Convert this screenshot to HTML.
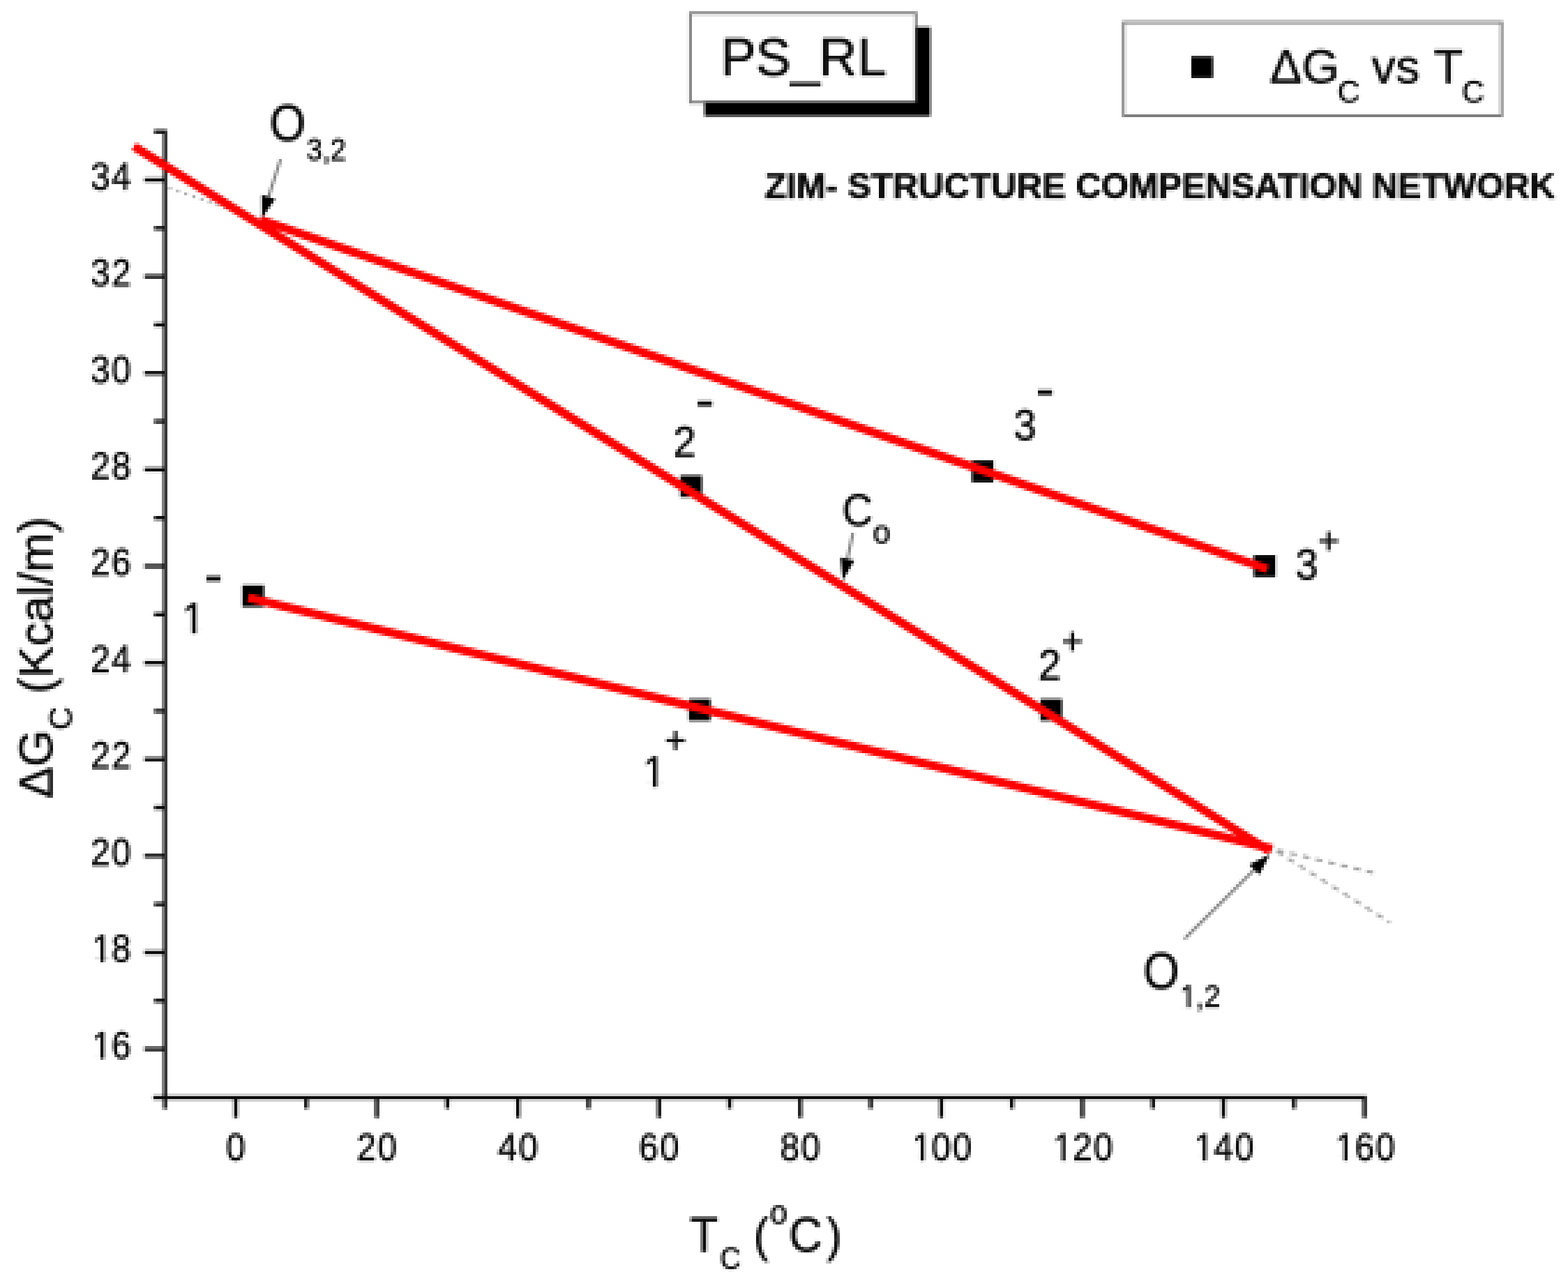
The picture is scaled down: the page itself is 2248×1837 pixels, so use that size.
<!DOCTYPE html>
<html lang="en"><head><meta charset="utf-8"><title>PS_RL - ZIM structure compensation network</title>
<style>html,body{margin:0;padding:0;background:#fff}body{width:2248px;height:1837px;overflow:hidden}svg{display:block}text{font-family:"Liberation Sans", Arial, Helvetica, sans-serif;fill:#0c0c0c;stroke:#0c0c0c;stroke-width:0.9px;stroke-linejoin:round}</style>
</head><body>
<svg width="2248" height="1837" viewBox="0 0 2248 1837">
<defs><filter id="lowres" filterUnits="userSpaceOnUse" primitiveUnits="userSpaceOnUse" x="0" y="0" width="2248" height="1840" color-interpolation-filters="sRGB">
<feConvolveMatrix in="SourceGraphic" order="4" kernelMatrix="1 1 1 1 1 1 1 1 1 1 1 1 1 1 1 1" divisor="16" targetX="0" targetY="0" edgeMode="duplicate" preserveAlpha="false" result="avg"/>
<feFlood x="0" y="0" width="1" height="1" flood-color="#000" flood-opacity="1" result="dot"/>
<feComposite in="dot" in2="dot" operator="over" x="0" y="0" width="4" height="4" result="cell"/>
<feTile in="cell" x="0" y="0" width="2248" height="1840" result="grid"/>
<feComposite in="avg" in2="grid" operator="in" result="samples"/>
<feConvolveMatrix in="samples" order="4" kernelMatrix="1 1 1 1 1 1 1 1 1 1 1 1 1 1 1 1" divisor="1" targetX="3" targetY="3" edgeMode="none" preserveAlpha="false"/>
</filter></defs>
<g filter="url(#lowres)">
<rect x="0" y="0" width="2248" height="1840" fill="#fff"/>
<g id="titlebox">
<rect x="1010" y="38.8" width="323.8" height="127.9" fill="#000"/>
<rect x="989.7" y="18.8" width="323.6" height="127.9" fill="#fff" stroke="#000" stroke-opacity="0.5" stroke-width="4"/>
<text x="1033.5 1083.5 1133.5 1174 1229.3" y="108.4" font-size="75.5">PS_RL</text>
</g>
<g id="legend">
<rect x="1610.8" y="32.2" width="542" height="133.8" fill="#fff" stroke="#000" stroke-opacity="0.5" stroke-width="4"/>
<rect x="1708" y="80.8" width="30.9" height="30.8" fill="#000"/>
<text y="118.6" font-size="69"><tspan x="1820.5">ΔG</tspan><tspan x="1917.5" dy="28" font-size="44.5">C </tspan><tspan x="1966.5" dy="-28">vs </tspan><tspan x="2055.5">T</tspan><tspan x="2096" dy="28" font-size="44.5">C</tspan></text>
</g>
<text x="1096.5" y="283.5" font-size="50" font-weight="bold" textLength="1133" lengthAdjust="spacingAndGlyphs">ZIM- STRUCTURE COMPENSATION NETWORK</text>
<g id="guides" fill="none" stroke="#a0a0a0" stroke-width="4">
<line x1="242" y1="269.5" x2="373" y2="315" stroke-dasharray="4 8"/>
<line x1="1828" y1="1218.5" x2="1977" y2="1253.5" stroke-dasharray="10 8.8" stroke-dashoffset="-3"/>
<line x1="1828" y1="1219.5" x2="1993" y2="1323" stroke-dasharray="10 8.8" stroke-dashoffset="-3"/>
</g>
<g id="axes" stroke="#0c0c0c" fill="none">
<line x1="236.6" y1="186" x2="236.6" y2="1590.5" stroke-width="5.4"/>
<line x1="219.5" y1="1574.0" x2="1959.3" y2="1574.0" stroke-width="5.6"/>
</g>
<g id="ticks" stroke="#0c0c0c" stroke-width="5.6" fill="none">
<line x1="207" y1="1504.36" x2="235" y2="1504.36"/>
<line x1="221" y1="1435.12" x2="235" y2="1435.12"/>
<line x1="207" y1="1365.88" x2="235" y2="1365.88"/>
<line x1="221" y1="1296.64" x2="235" y2="1296.64"/>
<line x1="207" y1="1227.4" x2="235" y2="1227.4"/>
<line x1="221" y1="1158.16" x2="235" y2="1158.16"/>
<line x1="207" y1="1088.92" x2="235" y2="1088.92"/>
<line x1="221" y1="1019.68" x2="235" y2="1019.68"/>
<line x1="207" y1="950.44" x2="235" y2="950.44"/>
<line x1="221" y1="881.2" x2="235" y2="881.2"/>
<line x1="207" y1="811.96" x2="235" y2="811.96"/>
<line x1="221" y1="742.72" x2="235" y2="742.72"/>
<line x1="207" y1="673.48" x2="235" y2="673.48"/>
<line x1="221" y1="604.24" x2="235" y2="604.24"/>
<line x1="207" y1="535" x2="235" y2="535"/>
<line x1="221" y1="465.76" x2="235" y2="465.76"/>
<line x1="207" y1="396.52" x2="235" y2="396.52"/>
<line x1="221" y1="327.28" x2="235" y2="327.28"/>
<line x1="207" y1="258.04" x2="235" y2="258.04"/>
<line x1="221" y1="188.8" x2="235" y2="188.8"/>
<line x1="338" y1="1575" x2="338" y2="1603"/>
<line x1="439.15" y1="1575" x2="439.15" y2="1590"/>
<line x1="540.3" y1="1575" x2="540.3" y2="1603"/>
<line x1="641.45" y1="1575" x2="641.45" y2="1590"/>
<line x1="742.6" y1="1575" x2="742.6" y2="1603"/>
<line x1="843.75" y1="1575" x2="843.75" y2="1590"/>
<line x1="944.9" y1="1575" x2="944.9" y2="1603"/>
<line x1="1046.05" y1="1575" x2="1046.05" y2="1590"/>
<line x1="1147.2" y1="1575" x2="1147.2" y2="1603"/>
<line x1="1248.35" y1="1575" x2="1248.35" y2="1590"/>
<line x1="1349.5" y1="1575" x2="1349.5" y2="1603"/>
<line x1="1450.65" y1="1575" x2="1450.65" y2="1590"/>
<line x1="1551.8" y1="1575" x2="1551.8" y2="1603"/>
<line x1="1652.95" y1="1575" x2="1652.95" y2="1590"/>
<line x1="1754.1" y1="1575" x2="1754.1" y2="1603"/>
<line x1="1855.25" y1="1575" x2="1855.25" y2="1590"/>
<line x1="1956.4" y1="1575" x2="1956.4" y2="1603"/>
</g>
<g id="ylabels">
<text transform="translate(131.92 1517.86) scale(0.9 1)" x="0 31.1" y="0" font-size="55.5">16</text>
<rect x="134.43" y="1513.16" width="9.64" height="6" fill="#fff"/>
<rect x="149.32" y="1513.16" width="9.25" height="6" fill="#fff"/>
<text transform="translate(131.92 1379.38) scale(0.9 1)" x="0 31.09" y="0" font-size="55.5">18</text>
<rect x="134.43" y="1374.68" width="9.64" height="6" fill="#fff"/>
<rect x="149.32" y="1374.68" width="9.25" height="6" fill="#fff"/>
<text transform="translate(130.1 1240.9) scale(0.9 1)" x="0 33.12" y="0" font-size="55.5">20</text>
<text transform="translate(130.1 1102.42) scale(0.9 1)" x="0 33.12" y="0" font-size="55.5">22</text>
<text transform="translate(130.1 963.94) scale(0.9 1)" x="0 33.11" y="0" font-size="55.5">24</text>
<text transform="translate(130.1 825.46) scale(0.9 1)" x="0 33.14" y="0" font-size="55.5">26</text>
<text transform="translate(130.1 686.98) scale(0.9 1)" x="0 33.12" y="0" font-size="55.5">28</text>
<text transform="translate(130.08 548.5) scale(0.9 1)" x="0 33.13" y="0" font-size="55.5">30</text>
<text transform="translate(130.08 410.02) scale(0.9 1)" x="0 33.13" y="0" font-size="55.5">32</text>
<text transform="translate(130.08 271.54) scale(0.9 1)" x="0 33.12" y="0" font-size="55.5">34</text>
</g>
<g id="xlabels">
<text transform="translate(324.11 1663.8) scale(0.9 1)" x="0" y="0" font-size="55.5">0</text>
<text transform="translate(511.51 1663.8) scale(0.9 1)" x="0 33.12" y="0" font-size="55.5">20</text>
<text transform="translate(713.79 1663.8) scale(0.9 1)" x="0 33.13" y="0" font-size="55.5">40</text>
<text transform="translate(916.12 1663.8) scale(0.9 1)" x="0 33.11" y="0" font-size="55.5">60</text>
<text transform="translate(1118.41 1663.8) scale(0.9 1)" x="0 33.12" y="0" font-size="55.5">80</text>
<text transform="translate(1307.63 1663.8) scale(0.9 1)" x="0 31.09 64.21" y="0" font-size="55.5">100</text>
<rect x="1310.13" y="1659.1" width="9.64" height="6" fill="#fff"/>
<rect x="1325.02" y="1659.1" width="9.25" height="6" fill="#fff"/>
<text transform="translate(1509.93 1663.8) scale(0.9 1)" x="0 31.09 64.21" y="0" font-size="55.5">120</text>
<rect x="1512.43" y="1659.1" width="9.64" height="6" fill="#fff"/>
<rect x="1527.32" y="1659.1" width="9.25" height="6" fill="#fff"/>
<text transform="translate(1712.23 1663.8) scale(0.9 1)" x="0 31.08 64.21" y="0" font-size="55.5">140</text>
<rect x="1714.73" y="1659.1" width="9.64" height="6" fill="#fff"/>
<rect x="1729.62" y="1659.1" width="9.25" height="6" fill="#fff"/>
<text transform="translate(1914.53 1663.8) scale(0.9 1)" x="0 31.1 64.21" y="0" font-size="55.5">160</text>
<rect x="1917.03" y="1659.1" width="9.64" height="6" fill="#fff"/>
<rect x="1931.92" y="1659.1" width="9.25" height="6" fill="#fff"/>
</g>
<text transform="translate(75,1145) rotate(-90)" font-size="68">ΔG<tspan font-size="46" dy="28">C</tspan><tspan dy="-28"> (Kcal/m)</tspan></text>
<text id="xtitle" transform="scale(0.95 1)"><tspan x="1040.95" y="1794.9" font-size="70">T</tspan><tspan x="1086.53" y="1820.3" font-size="43.5">C </tspan><tspan x="1137.47" y="1794.9" font-size="68">(</tspan><tspan x="1161.77" y="1755.3" font-size="48">o</tspan><tspan x="1190.55" y="1794.9" font-size="70">C</tspan><tspan x="1247.6" y="1794.9" font-size="68">)</tspan></text>
<g id="markers" fill="#000">
<rect x="347.4" y="839.2" width="31.2" height="31.2"/>
<rect x="987.4" y="1002.4" width="31.2" height="31.2"/>
<rect x="975.2" y="681.8" width="31.2" height="31.2"/>
<rect x="1491.4" y="1002.4" width="31.2" height="31.2"/>
<rect x="1393.2" y="660.4" width="31.2" height="31.2"/>
<rect x="1797.4" y="796.2" width="31.2" height="31.2"/>
</g>
<g id="fits" stroke="#ff0000" stroke-width="12.4" fill="none">
<line x1="192" y1="210" x2="1819.5" y2="1219.9"/>
<line x1="373" y1="315" x2="1817" y2="816"/>
<line x1="356" y1="857" x2="1824" y2="1217.3"/>
</g>
<g id="arrows">
<line x1="402.2" y1="228.3" x2="385.02" y2="282.47" stroke="#828282" stroke-width="4.2"/>
<polygon points="375.5,312.5 375.25,279.38 394.79,285.57" fill="#000"/>
<line x1="1222.9" y1="764.2" x2="1214.9" y2="801.5" stroke="#828282" stroke-width="4.2"/>
<polygon points="1208.3,832.3 1204.88,799.35 1224.93,803.65" fill="#000"/>
<line x1="1698" y1="1346.6" x2="1798.24" y2="1247.18" stroke="#828282" stroke-width="4.2"/>
<polygon points="1820.6,1225 1805.45,1254.46 1791.02,1239.91" fill="#000"/>
</g>
<g id="notes">
<text transform="translate(386.5 201.8) scale(0.9 1)" font-size="74">O</text>
<text transform="translate(439.42 230.2) scale(0.92 1)" x="0 24.78 37.17" y="0" font-size="44.5">3,2</text>
<text transform="translate(1639.1 1418) scale(0.9 1)" font-size="74">O</text>
<text transform="translate(1691.83 1443.5) scale(0.95 1)" x="0 23.56 36.25" y="0" font-size="44.5">1,2</text>
<rect x="1693.75" y="1439.63" width="8.29" height="5.17" fill="#fff"/>
<rect x="1706.62" y="1439.63" width="7.96" height="5.17" fill="#fff"/>
<text transform="translate(1207.6 754.3) scale(0.93 1)" font-size="65">C</text>
<text x="1251.2" y="779" font-size="46">o</text>
<text transform="translate(261.03 907.6) scale(0.92 1)" x="0" y="0" font-size="63.5">1</text>
<rect x="264.18" y="902.31" width="11.12" height="6.59" fill="#fff"/>
<rect x="281.3" y="902.31" width="10.66" height="6.59" fill="#fff"/>
<text x="306" y="851.05" font-size="80" text-anchor="middle" stroke-width="0.3">-</text>
<text transform="translate(965.15 654.5) scale(0.92 1)" x="0" y="0" font-size="63.5">2</text>
<text x="1010.5" y="600.05" font-size="80" text-anchor="middle" stroke-width="0.3">-</text>
<text transform="translate(1453.13 630.8) scale(0.92 1)" x="0" y="0" font-size="63.5">3</text>
<text x="1498.2" y="584.05" font-size="80" text-anchor="middle" stroke-width="0.3">-</text>
<text transform="translate(921.63 1127.8) scale(0.92 1)" x="0" y="0" font-size="63.5">1</text>
<rect x="924.78" y="1122.51" width="11.12" height="6.59" fill="#fff"/>
<rect x="941.9" y="1122.51" width="10.66" height="6.59" fill="#fff"/>
<text x="968.6" y="1079.95" font-size="54" text-anchor="middle">+</text>
<text transform="translate(1488.75 974.8) scale(0.92 1)" x="0" y="0" font-size="63.5">2</text>
<text x="1537.5" y="937.96" font-size="54" text-anchor="middle">+</text>
<text transform="translate(1857.23 830.8) scale(0.92 1)" x="0" y="0" font-size="63.5">3</text>
<text x="1905" y="793.96" font-size="54" text-anchor="middle">+</text>
</g>
</g>
</svg>
</body></html>
